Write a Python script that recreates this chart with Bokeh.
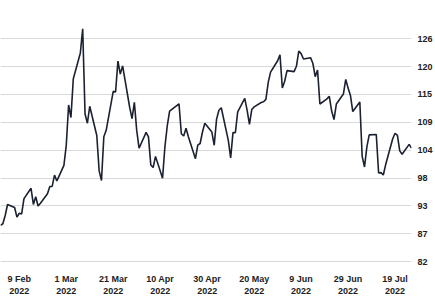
import pandas as pd
from bokeh.plotting import figure
from bokeh.models import FixedTicker, Range1d
from bokeh.embed import file_html
from bokeh.resources import INLINE

DATES = [
    "2022-02-01", "2022-02-02", "2022-02-03", "2022-02-04", "2022-02-07", "2022-02-08", "2022-02-09",
    "2022-02-10", "2022-02-11", "2022-02-14", "2022-02-15", "2022-02-16", "2022-02-17", "2022-02-18",
    "2022-02-21", "2022-02-22", "2022-02-23", "2022-02-24", "2022-02-25", "2022-02-28",
    "2022-03-01", "2022-03-02", "2022-03-03", "2022-03-04", "2022-03-07", "2022-03-08", "2022-03-09",
    "2022-03-10", "2022-03-11", "2022-03-14", "2022-03-15", "2022-03-16", "2022-03-17", "2022-03-18",
    "2022-03-21", "2022-03-22", "2022-03-23", "2022-03-24", "2022-03-25", "2022-03-28", "2022-03-29",
    "2022-03-30", "2022-03-31",
    "2022-04-01", "2022-04-04", "2022-04-05", "2022-04-06", "2022-04-07", "2022-04-08", "2022-04-11",
    "2022-04-12", "2022-04-13", "2022-04-14", "2022-04-18", "2022-04-19", "2022-04-20", "2022-04-21",
    "2022-04-22", "2022-04-25", "2022-04-26", "2022-04-27", "2022-04-28", "2022-04-29",
    "2022-05-02", "2022-05-03", "2022-05-04", "2022-05-05", "2022-05-06", "2022-05-09", "2022-05-10",
    "2022-05-11", "2022-05-12", "2022-05-13", "2022-05-16", "2022-05-17", "2022-05-18", "2022-05-19",
    "2022-05-20", "2022-05-23", "2022-05-24", "2022-05-25", "2022-05-26", "2022-05-27", "2022-05-30",
    "2022-05-31",
    "2022-06-01", "2022-06-02", "2022-06-03", "2022-06-06", "2022-06-07", "2022-06-08", "2022-06-09",
    "2022-06-10", "2022-06-13", "2022-06-14", "2022-06-15", "2022-06-16", "2022-06-17", "2022-06-20",
    "2022-06-21", "2022-06-22", "2022-06-23", "2022-06-24", "2022-06-27", "2022-06-28", "2022-06-29",
    "2022-06-30",
    "2022-07-01", "2022-07-04", "2022-07-05", "2022-07-06", "2022-07-07", "2022-07-08", "2022-07-11",
    "2022-07-12", "2022-07-13", "2022-07-14", "2022-07-15", "2022-07-18", "2022-07-19", "2022-07-20",
    "2022-07-21", "2022-07-22", "2022-07-25", "2022-07-26",
]

PRICES = [
    89.16, 89.47, 91.11, 93.27, 92.69, 90.78, 91.55,
    91.41, 94.44, 96.48, 93.28, 94.81, 92.97, 93.54,
    95.39, 96.84, 96.84, 99.08, 97.93, 100.99,
    104.97, 112.93, 110.46, 118.11, 123.21, 127.98, 111.14,
    109.33, 112.67, 106.90, 99.91, 98.02, 106.64, 107.93,
    115.62, 115.48, 121.60, 119.03, 120.65, 112.48, 110.23,
    113.45, 107.91,
    104.39, 107.53, 106.64, 101.07, 100.58, 102.78, 98.48,
    104.64, 108.78, 111.70, 113.16, 107.25, 106.80, 108.33,
    106.65, 102.32, 104.99, 105.32, 107.59, 109.34,
    107.58, 104.97, 110.14, 111.90, 112.39, 105.94, 102.46,
    107.51, 107.45, 111.55, 114.24, 111.93, 109.11, 112.04,
    112.55, 113.42, 113.56, 114.03, 117.40, 119.43, 121.67,
    122.84,
    116.29, 117.61, 119.72, 119.51, 120.57, 123.58, 123.07,
    122.01, 122.27, 121.17, 118.51, 119.81, 113.12, 114.13,
    114.65, 111.74, 110.05, 113.12, 115.09, 117.98, 116.26,
    114.81,
    111.63, 113.50, 102.77, 100.69, 104.65, 107.02, 107.10,
    99.49, 99.57, 99.10, 101.16, 106.27, 107.35, 106.92,
    103.86, 103.20, 105.15, 104.40,
]

X_TICK_DATES = ["2022-02-09", "2022-03-01", "2022-03-21", "2022-04-10", "2022-04-30",
                "2022-05-20", "2022-06-09", "2022-06-29", "2022-07-19"]
X_TICK_LABELS = ["9 Feb\n2022", "1 Mar\n2022", "21 Mar\n2022", "10 Apr\n2022", "30 Apr\n2022",
                 "20 May\n2022", "9 Jun\n2022", "29 Jun\n2022", "19 Jul\n2022"]

Y_TICKS = [82, 87.5, 93, 98.5, 104, 109.5, 115, 120.5, 126]
Y_TICK_LABELS = ["82", "87", "93", "98", "104", "109", "115", "120", "126"]

x = pd.to_datetime(DATES)


def ms(d):
    return pd.Timestamp(d).value / 1e6


p = figure(
    width=435, height=300,
    frame_width=411, frame_height=268,
    x_axis_type="datetime",
    y_axis_location="right",
    output_backend="svg",
    toolbar_location=None,
    min_border_left=0, min_border_top=0, min_border_right=24, min_border_bottom=32,
    x_range=Range1d(ms("2022-02-01"), ms("2022-07-26")),
    y_range=Range1d(80.64, 133.56),
)
p.background_fill_color = "white"
p.border_fill_color = "white"
p.outline_line_color = None

p.line(x, PRICES, line_color="#1b2130", line_width=1.6)

x_ticks = [ms(d) for d in X_TICK_DATES]
p.xaxis.ticker = FixedTicker(ticks=x_ticks)
p.xaxis.major_label_overrides = {t: lab for t, lab in zip(x_ticks, X_TICK_LABELS)}
p.yaxis.ticker = FixedTicker(ticks=Y_TICKS)
p.yaxis.major_label_overrides = {t: lab for t, lab in zip(Y_TICKS, Y_TICK_LABELS)}

for ax in (p.xaxis, p.yaxis):
    ax.axis_line_color = None
    ax.major_tick_line_color = None
    ax.minor_tick_line_color = None
    ax.major_tick_out = 0
    ax.major_tick_in = 0
    ax.major_label_text_font = "Liberation Sans"
    ax.major_label_text_font_size = "9px"
    ax.major_label_text_color = "#222222"
    ax.major_label_text_font_style = "bold"

p.xaxis.major_label_standoff = 5
p.yaxis.major_label_standoff = 6
p.yaxis.major_label_text_align = "left"

p.xgrid.grid_line_color = None
p.ygrid.grid_line_color = "#d9d9d9"
p.ygrid.grid_line_width = 1

open("out.html", "w").write(file_html(p, INLINE))
